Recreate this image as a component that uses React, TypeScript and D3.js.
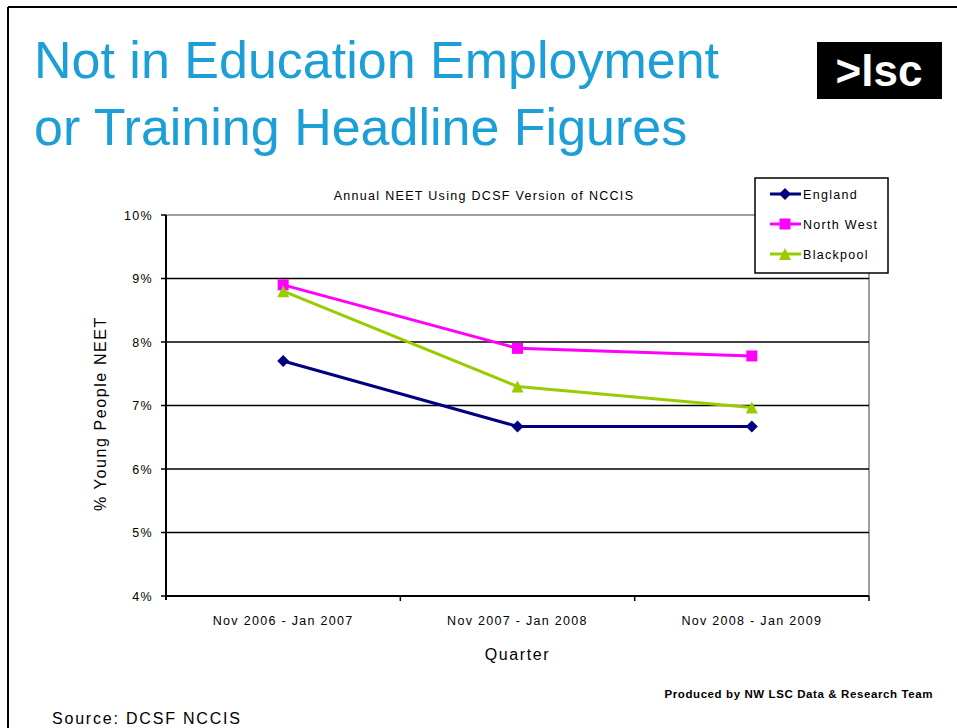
import React from "react";
import * as d3 from "d3";

const categories = ["Nov 2006 - Jan 2007", "Nov 2007 - Jan 2008", "Nov 2008 - Jan 2009"];
const england = [7.7, 6.67, 6.67];
const northWest = [8.9, 7.9, 7.78];
const blackpool = [8.8, 7.3, 6.97];
const yTicks = [4, 5, 6, 7, 8, 9, 10];

const seriesList = [
  { name: "England", values: england, color: "#000080", marker: "diamond" },
  { name: "North West", values: northWest, color: "#FF00FF", marker: "square" },
  { name: "Blackpool", values: blackpool, color: "#99CC00", marker: "triangle" },
];

const W = 957, H = 728;
const plot = { left: 166, right: 869, top: 215, bottom: 596 };
const font = "'Liberation Sans', Arial, sans-serif";

function Marker({ type, x, y, color }: { type: string; x: number; y: number; color: string }) {
  if (type === "diamond") {
    const s = 6;
    return <path d={`M${x},${y - s}L${x + s},${y}L${x},${y + s}L${x - s},${y}Z`} fill={color} />;
  }
  if (type === "square") {
    const s = 5.5;
    return <rect x={x - s} y={y - s} width={2 * s} height={2 * s} fill={color} />;
  }
  const s = 6;
  return <path d={`M${x},${y - s}L${x + s},${y + s}L${x - s},${y + s}Z`} fill={color} />;
}

export default function App() {
  const x = d3.scaleBand().domain(categories).range([plot.left, plot.right]);
  const y = d3.scaleLinear().domain([4, 10]).range([plot.bottom, plot.top]);
  const cx = (c: string) => (x(c) as number) + x.bandwidth() / 2;
  const line = d3
    .line<number>()
    .x((_, i) => cx(categories[i]))
    .y((d) => y(d));

  const legend = { x: 755, y: 178, w: 133, h: 95 };
  const small = { fontFamily: font, fontSize: 12.5, letterSpacing: 1.3, fill: "#000" };

  return (
    <svg width={W} height={H} style={{ position: "absolute", left: 0, top: 0, background: "#fff" }}>
      <rect x={0} y={0} width={W} height={H} fill="#fff" />
      {/* page border */}
      <line x1={8} y1={7} x2={W} y2={7} stroke="#000" strokeWidth={2} />
      <line x1={8} y1={7} x2={8} y2={H} stroke="#000" strokeWidth={2} />

      {/* title */}
      <text x={34} y={78} fontFamily={font} fontSize={52} fill="#1C9FD6">
        Not in Education Employment
      </text>
      <text x={34} y={145} fontFamily={font} fontSize={52} fill="#1C9FD6">
        or Training Headline Figures
      </text>

      {/* logo */}
      <rect x={817} y={42} width={125} height={57} fill="#000" />
      <text x={879} y={86} textAnchor="middle" fontFamily={font} fontWeight="bold" fontSize={44} fill="#fff">
        {">lsc"}
      </text>

      {/* chart title */}
      <text x={484} y={200} textAnchor="middle" {...small}>
        Annual NEET Using DCSF Version of NCCIS
      </text>

      {/* plot frame */}
      <line x1={plot.left} y1={plot.top} x2={plot.right} y2={plot.top} stroke="#808080" strokeWidth={1.5} />
      <line x1={plot.right} y1={plot.top} x2={plot.right} y2={plot.bottom} stroke="#808080" strokeWidth={1.5} />

      {/* gridlines */}
      {yTicks
        .filter((t) => t > 4 && t < 10)
        .map((t) => (
          <line key={t} x1={plot.left} x2={plot.right} y1={y(t)} y2={y(t)} stroke="#000" strokeWidth={1.5} />
        ))}

      {/* axes */}
      <line x1={plot.left} y1={plot.top} x2={plot.left} y2={plot.bottom + 4} stroke="#000" strokeWidth={2} />
      <line x1={plot.left} y1={plot.bottom} x2={plot.right} y2={plot.bottom} stroke="#000" strokeWidth={2} />
      {yTicks.map((t) => (
        <g key={t}>
          <line x1={plot.left - 5} x2={plot.left} y1={y(t)} y2={y(t)} stroke="#000" strokeWidth={1.5} />
          <text x={plot.left - 13} y={y(t) + 4.5} textAnchor="end" {...small}>
            {t}%
          </text>
        </g>
      ))}
      {categories.map((c, i) => (
        <g key={c}>
          {i > 0 && (
            <line x1={x(c) as number} x2={x(c) as number} y1={plot.bottom} y2={plot.bottom + 5} stroke="#000" strokeWidth={1.5} />
          )}
          <text x={cx(c)} y={plot.bottom + 29} textAnchor="middle" {...small}>
            {c}
          </text>
        </g>
      ))}
      <line x1={plot.right} x2={plot.right} y1={plot.bottom} y2={plot.bottom + 5} stroke="#000" strokeWidth={1.5} />

      {/* axis titles */}
      <text
        transform={`translate(106, ${(plot.top + plot.bottom) / 2 + 8}) rotate(-90)`}
        textAnchor="middle"
        fontFamily={font}
        fontSize={16}
        letterSpacing={1.6}
        fill="#000"
      >
        % Young People NEET
      </text>
      <text x={(plot.left + plot.right) / 2} y={660} textAnchor="middle" fontFamily={font} fontSize={16} letterSpacing={1.6} fill="#000">
        Quarter
      </text>

      {/* series */}
      {seriesList.map((s) => (
        <g key={s.name}>
          <path d={line(s.values) || ""} fill="none" stroke={s.color} strokeWidth={3} />
          {s.values.map((v, i) => (
            <Marker key={i} type={s.marker} x={cx(categories[i])} y={y(v)} color={s.color} />
          ))}
        </g>
      ))}

      {/* legend */}
      <rect x={legend.x} y={legend.y} width={legend.w} height={legend.h} fill="#fff" stroke="#000" strokeWidth={1.5} />
      {seriesList.map((s, i) => {
        const ly = legend.y + 16 + i * 30;
        return (
          <g key={s.name}>
            <line x1={legend.x + 15} x2={legend.x + 46} y1={ly} y2={ly} stroke={s.color} strokeWidth={3} />
            <Marker type={s.marker} x={legend.x + 30} y={ly} color={s.color} />
            <text x={legend.x + 48} y={ly + 4.5} {...small}>
              {s.name}
            </text>
          </g>
        );
      })}

      {/* footer */}
      <text x={933} y={698} textAnchor="end" fontFamily={font} fontWeight="bold" fontSize={11.5} letterSpacing={0.6} fill="#000">
        Produced by NW LSC Data &amp; Research Team
      </text>
      <text x={52} y={724} fontFamily={font} fontSize={16} letterSpacing={1.8} fill="#000">
        Source: DCSF NCCIS
      </text>
    </svg>
  );
}
